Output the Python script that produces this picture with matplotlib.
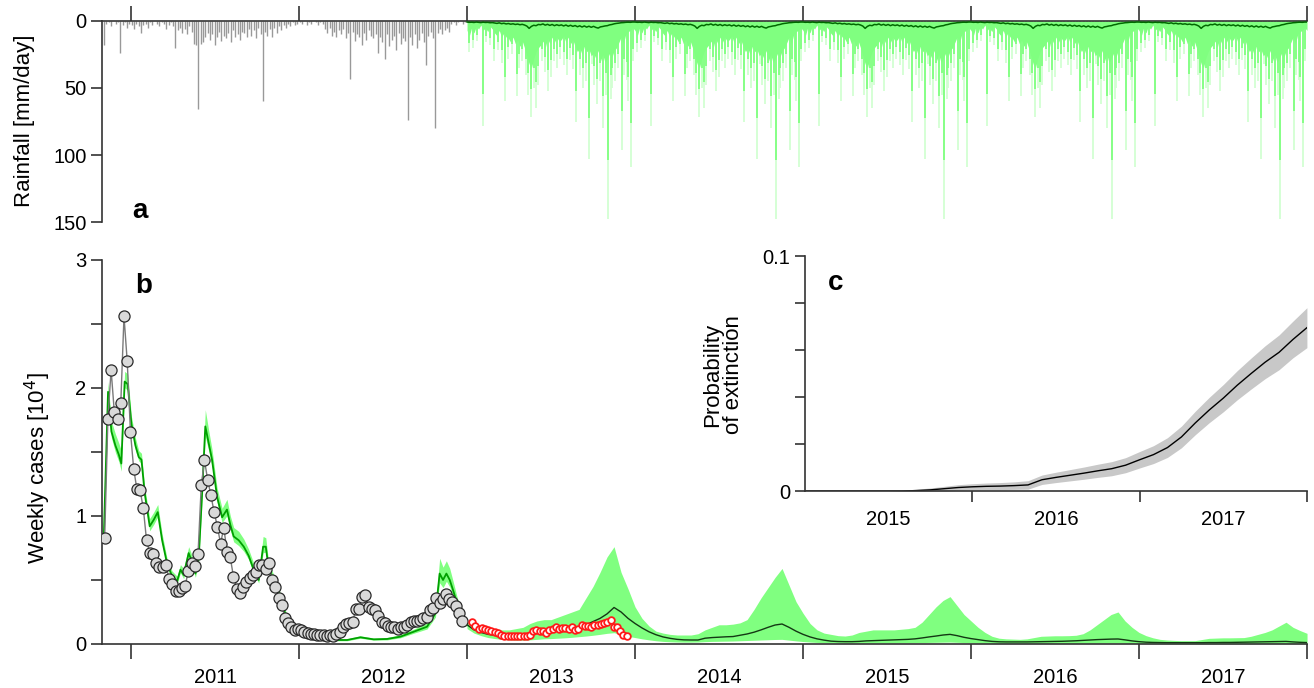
"""
cholera forecast figure: rainfall (a), weekly cases (b), extinction probability (c)
"""
import numpy as np
import matplotlib
matplotlib.use("Agg")
import matplotlib.pyplot as plt
from matplotlib.ticker import FixedLocator

plt.rcParams.update({
    "font.family": ["Liberation Sans", "DejaVu Sans"],
    "font.size": 14.5,
    "axes.linewidth": 1.2,
    "axes.edgecolor": "#333333",
    "xtick.major.width": 1.2,
    "ytick.major.width": 1.2,
    "xtick.minor.width": 1.2,
    "ytick.minor.width": 1.2,
    "xtick.major.size": 8.5,
    "ytick.major.size": 8.0,
    "ytick.minor.size": 8.0,
    "xtick.color": "#333333",
    "ytick.color": "#333333",
    "xtick.labelcolor": "black",
    "ytick.labelcolor": "black",
})

# =========================
# data
# =========================
# observed daily rainfall (sampled every 5 days), mm/day
rain_start = 2010.84
rain_obs = [18, 2, 1, 4, 0, 2, 1, 24, 3, 1, 5, 2,
            3, 6, 2, 4, 9, 3, 2, 5, 1, 3, 0, 2, 4, 1, 2, 6, 3, 1, 4,
            20, 7, 5, 9, 6, 10, 4, 8, 17,
            18, 66, 17, 16, 12, 9, 14,
            10, 18, 12, 8, 15, 11, 13, 9, 16, 7, 12, 10, 14, 8,
            9, 12, 6, 11, 7, 13, 5, 10,
            60,
            8, 11, 6, 12, 5, 9, 4, 7,
            3, 5, 2, 4, 1, 3, 2,
            1, 2, 0, 3, 1, 2, 0, 1, 3, 1, 2,
            6, 9, 5, 11, 8, 12, 7, 10, 6, 13, 9,
            43,
            8, 15, 10, 12, 18, 9, 14, 7, 11, 13, 10,
            24,
            12, 16, 28, 10, 19, 14, 11, 22, 9, 17, 13, 15,
            74,
            12, 18, 10, 20, 14, 9, 16,
            33,
            11, 8, 13,
            80,
            9, 6, 10, 7, 5, 8,
            2, 1, 3, 1, 0, 2, 1, 1]

# simulated rainfall, one climatological year (5-day steps), repeated 2013-2017
sim_years = [2013, 2014, 2015, 2016, 2017]
rain_body = [7, 11, 5, 9,
             4, 6, 3, 7, 5, 8, 4, 6,
             9, 11, 7, 12, 9, 12,
             13, 16, 12, 17, 14, 19, 15, 20,
             26, 32, 35, 28, 23, 20,
             18, 15, 20, 13, 17, 12, 16, 12, 15,
             14, 11, 16, 12, 17, 14,
             19, 23, 20, 25, 19, 23, 21, 26,
             24, 28, 22, 30, 25, 31, 28, 24, 27, 22, 20,
             16, 12, 17, 10, 8, 7, 5]
rain_median = [0.8, 1.0, 0.9, 1.1, 0.8, 1.0, 1.2, 0.9, 1.1, 1.0, 1.3, 1.2,
               1.5, 1.8, 1.4, 2.0, 1.7, 2.2, 1.9, 2.4, 2.1, 2.6, 2.3, 2.8, 2.5, 3.0,
               3.8, 5.5, 4.0, 3.2, 3.5, 2.6,
               2.8, 2.2, 3.1, 2.5, 3.3, 2.6, 3.5, 2.8, 3.4, 2.9, 3.7, 3.0, 3.9, 3.2, 4.0,
               3.4, 4.3, 3.6, 4.5, 3.7, 4.6, 3.9, 4.7, 4.0, 4.8, 5.3, 4.4, 4.1, 3.7,
               3.5, 2.9, 2.6, 2.1, 1.8,
               1.6, 1.3, 1.2, 1.0, 0.9, 1.0, 0.8]
spike_day = [3.6, 12, 22, 34, 42, 50.6, 58, 68, 77, 83, 90, 97.6, 108, 114,
             119, 128, 133, 139.5, 144.5, 150, 155, 162.6, 170, 177, 182, 188,
             195, 202, 210, 218, 224, 230, 237, 246, 252, 258, 266, 271, 276,
             282, 289, 296, 302, 307, 312, 316, 321.6, 329, 336, 342, 347, 351,
             356, 360]
spike_mm = [23, 20, 15, 78, 16, 18, 30, 22, 31, 60, 28, 25, 56, 35,
            30, 40, 55, 72, 50, 65, 48, 30, 38, 52, 42, 30,
            35, 28, 33, 40, 29, 36, 75, 40, 50, 45, 103, 32, 48,
            62, 45, 80, 55, 148, 58, 50, 45, 35, 96, 40, 44, 60,
            109, 30]

# weekly observed cases [10^4], fitting period
obs_start = 2010.843
obs_cases = [0.826, 1.76, 2.14, 1.81, 1.755, 1.88, 2.56, 2.21, 1.66, 1.37,
             1.21, 1.20, 1.06, 0.81, 0.71, 0.70, 0.635, 0.60, 0.60, 0.615,
             0.51, 0.466, 0.41, 0.41, 0.435, 0.456, 0.57, 0.63, 0.61, 0.706,
             1.24, 1.435, 1.28, 1.16, 1.03, 0.917, 0.784, 0.909, 0.719, 0.677,
             0.526, 0.432, 0.396, 0.443, 0.487, 0.516, 0.539, 0.565, 0.617, 0.617,
             0.583, 0.630, 0.500, 0.448, 0.362, 0.302, 0.203, 0.161, 0.135, 0.109,
             0.117, 0.109, 0.096, 0.083, 0.078, 0.078, 0.070, 0.068, 0.070, 0.065,
             0.070, 0.065, 0.078, 0.096, 0.130, 0.156, 0.160, 0.172, 0.271, 0.276,
             0.365, 0.383, 0.286, 0.273, 0.266, 0.219, 0.174, 0.167, 0.141, 0.135,
             0.130, 0.120, 0.135, 0.135, 0.148, 0.174, 0.180, 0.182, 0.188, 0.201,
             0.214, 0.266, 0.284, 0.359, 0.323, 0.352, 0.388, 0.354, 0.328, 0.299,
             0.245, 0.182]

# weekly observed cases after the fit (validation)
val_start = 2013.03
val_cases = [0.174, 0.141, 0.115, 0.122, 0.115, 0.109, 0.102, 0.091, 0.083, 0.070,
             0.065, 0.0625, 0.0625, 0.060, 0.060, 0.0625, 0.0625, 0.065, 0.070, 0.102,
             0.109, 0.104, 0.102, 0.089, 0.109, 0.120, 0.130, 0.115, 0.125, 0.128,
             0.115, 0.130, 0.109, 0.120, 0.146, 0.141, 0.141, 0.135, 0.146, 0.151,
             0.159, 0.161, 0.169, 0.1875, 0.135, 0.130, 0.104, 0.070, 0.0625]

# model fit (median and half-width of band)
fit_t = [2010.837, 2010.863, 2010.883, 2010.907, 2010.927, 2010.942, 2010.962, 2010.980,
         2011.002, 2011.026, 2011.046, 2011.062, 2011.081, 2011.111, 2011.135, 2011.159,
         2011.185, 2011.214, 2011.244, 2011.274, 2011.294, 2011.313, 2011.343, 2011.363,
         2011.383, 2011.403, 2011.423, 2011.442, 2011.462, 2011.482, 2011.512, 2011.542,
         2011.571, 2011.591, 2011.611, 2011.641, 2011.671, 2011.700, 2011.730, 2011.760,
         2011.786, 2011.802, 2011.819, 2011.849, 2011.879, 2011.909, 2011.938, 2011.968,
         2012.008, 2012.087, 2012.206, 2012.286, 2012.365, 2012.444, 2012.524, 2012.603,
         2012.683, 2012.762, 2012.812, 2012.837, 2012.857, 2012.877, 2012.897, 2012.917,
         2012.940, 2012.970, 2013.000]
fit_cases = [0.80, 1.97, 1.66, 1.55, 1.48, 1.41, 2.05, 2.03,
             1.72, 1.55, 1.46, 1.44, 1.18, 0.92, 0.97, 1.03, 0.81, 0.63,
             0.53, 0.49, 0.58, 0.54, 0.71, 0.64, 0.55, 0.68, 1.18, 1.70,
             1.57, 1.44, 1.15, 0.99, 1.05, 0.93, 0.84, 0.81, 0.76, 0.69,
             0.58, 0.50, 0.76, 0.76, 0.59, 0.50, 0.40, 0.27, 0.16, 0.11,
             0.07, 0.044, 0.031, 0.031, 0.052, 0.036, 0.039, 0.057, 0.096, 0.135,
             0.24, 0.55, 0.50, 0.55, 0.50, 0.42, 0.32, 0.21,
             0.15]
fit_spread = [0.03, 0.08, 0.08, 0.09, 0.09, 0.10, 0.08, 0.08,
              0.06, 0.06, 0.05, 0.05, 0.05, 0.06, 0.06, 0.06, 0.05, 0.04,
              0.04, 0.04, 0.04, 0.05, 0.05, 0.05, 0.05, 0.06, 0.08, 0.13,
              0.10, 0.08, 0.07, 0.07, 0.08, 0.07, 0.07, 0.07, 0.06, 0.05,
              0.05, 0.04, 0.08, 0.07, 0.05, 0.04, 0.04, 0.03, 0.03, 0.02,
              0.015, 0.01, 0.01, 0.01, 0.012, 0.01, 0.012, 0.015, 0.02, 0.03,
              0.05, 0.12, 0.10, 0.10, 0.09, 0.07, 0.05, 0.04,
              0.03]

# forecast 2013-2018 (half-month steps): lower, median, upper
fc_lo = [0.12, 0.085, 0.065, 0.05, 0.042, 0.036, 0.032, 0.03, 0.03, 0.032, 0.036, 0.04,
         0.042, 0.045, 0.048, 0.052, 0.057, 0.062, 0.068, 0.075, 0.083, 0.088, 0.075, 0.06,
         0.05, 0.04, 0.032, 0.025, 0.02, 0.017, 0.015, 0.014, 0.014, 0.015, 0.018, 0.02,
         0.021, 0.022, 0.023, 0.025, 0.027, 0.029, 0.031, 0.033, 0.035, 0.036, 0.03, 0.024,
         0.019, 0.015, 0.012, 0.01, 0.008, 0.007, 0.006, 0.006, 0.006, 0.007, 0.007, 0.008,
         0.008, 0.008, 0.009, 0.009, 0.01, 0.011, 0.012, 0.013, 0.014, 0.015, 0.013, 0.011,
         0.009, 0.007, 0.006, 0.005, 0.004, 0.004, 0.004, 0.004, 0.004, 0.004, 0.004, 0.004,
         0.005, 0.005, 0.005, 0.005, 0.006, 0.006, 0.006, 0.007, 0.007, 0.007, 0.006, 0.005,
         0.004, 0.003, 0.003, 0.003, 0.002, 0.002, 0.002, 0.002, 0.002, 0.002, 0.002, 0.002,
         0.002, 0.002, 0.002, 0.002, 0.002, 0.003, 0.003, 0.003, 0.003, 0.003, 0.003, 0.003,
         0.003]
fc_med = [0.15, 0.11, 0.09, 0.075, 0.068, 0.062, 0.06, 0.06, 0.065, 0.075, 0.09, 0.095,
          0.10, 0.10, 0.105, 0.12, 0.135, 0.15, 0.175, 0.20, 0.235, 0.285, 0.25, 0.20,
          0.16, 0.125, 0.095, 0.072, 0.055, 0.044, 0.036, 0.032, 0.031, 0.031, 0.045, 0.05,
          0.053, 0.056, 0.058, 0.068, 0.078, 0.092, 0.11, 0.13, 0.148, 0.156, 0.13, 0.10,
          0.075, 0.055, 0.04, 0.03, 0.022, 0.019, 0.018, 0.018, 0.02, 0.024, 0.026, 0.028,
          0.03, 0.032, 0.034, 0.036, 0.04, 0.047, 0.055, 0.062, 0.07, 0.075, 0.065, 0.052,
          0.042, 0.034, 0.026, 0.02, 0.017, 0.016, 0.016, 0.016, 0.016, 0.017, 0.018, 0.019,
          0.02, 0.021, 0.023, 0.025, 0.028, 0.031, 0.034, 0.036, 0.038, 0.039, 0.032, 0.024,
          0.018, 0.014, 0.012, 0.011, 0.01, 0.01, 0.01, 0.01, 0.01, 0.01, 0.011, 0.011,
          0.012, 0.012, 0.013, 0.014, 0.015, 0.016, 0.017, 0.018, 0.019, 0.02, 0.016, 0.013,
          0.011]
fc_hi = [0.17, 0.14, 0.125, 0.12, 0.12, 0.11, 0.11, 0.12, 0.13, 0.16, 0.18, 0.19,
         0.19, 0.21, 0.23, 0.25, 0.27, 0.36, 0.45, 0.56, 0.68, 0.76, 0.56, 0.43,
         0.29, 0.20, 0.14, 0.10, 0.085, 0.075, 0.07, 0.07, 0.07, 0.08, 0.11, 0.13,
         0.15, 0.15, 0.155, 0.165, 0.19, 0.27, 0.36, 0.44, 0.52, 0.59, 0.46, 0.33,
         0.24, 0.16, 0.11, 0.085, 0.075, 0.065, 0.062, 0.07, 0.09, 0.10, 0.11, 0.11,
         0.11, 0.11, 0.115, 0.12, 0.13, 0.17, 0.23, 0.29, 0.34, 0.37, 0.30, 0.23,
         0.18, 0.13, 0.09, 0.06, 0.045, 0.04, 0.038, 0.036, 0.04, 0.05, 0.06, 0.062,
         0.064, 0.064, 0.065, 0.068, 0.08, 0.11, 0.15, 0.19, 0.23, 0.25, 0.18, 0.13,
         0.09, 0.065, 0.048, 0.036, 0.031, 0.028, 0.026, 0.026, 0.026, 0.035, 0.044, 0.046,
         0.048, 0.048, 0.049, 0.05, 0.06, 0.075, 0.09, 0.11, 0.14, 0.17, 0.13, 0.105,
         0.083]

# probability of extinction (monthly, 2015-2018)
ext_prob = [0, 0, 0, 0, 0, 0, 0, 0, 0.0002, 0.0005, 0.001, 0.0015,
            0.0018, 0.002, 0.0021, 0.0023, 0.0026, 0.0048, 0.0058, 0.0067, 0.0076, 0.0086, 0.0095, 0.011,
            0.0133, 0.0155, 0.0185, 0.023, 0.029, 0.0345, 0.0395, 0.045, 0.050, 0.0548, 0.059, 0.0645,
            0.0695]
ext_spread = [0, 0, 0, 0, 0, 0, 0, 0.0003, 0.0006, 0.0008, 0.001, 0.0012,
              0.0013, 0.0014, 0.0015, 0.0016, 0.0018, 0.002, 0.0022, 0.0024, 0.0026, 0.0028, 0.003, 0.0032,
              0.0035, 0.0038, 0.0042, 0.0046, 0.005, 0.0054, 0.0058, 0.0062, 0.0066, 0.007, 0.0074, 0.0078,
              0.0085]

years = [2011, 2012, 2013, 2014, 2015, 2016, 2017, 2018]
year_labels = ["2011", "2012", "2013", "2014", "2015", "2016", "2017"]

GREEN_BAND = "#80ff80"
GREEN_TIP = "#d2ffd2"
GREEN_FIT = "#00a000"
GREEN_DARK = "#006a00"

# =========================
# figure
# =========================
fig = plt.figure(figsize=(13.14, 6.88), dpi=100)
ax_r = fig.add_axes([0.078, 0.6773, 0.9167, 0.2922])
ax_c = fig.add_axes([0.078, 0.0640, 0.9167, 0.5581])
ax_p = fig.add_axes([0.6126, 0.2863, 0.3820, 0.3416])

# ---- a: rainfall
t_rain = rain_start + np.arange(len(rain_obs)) * 5 / 365.25
ax_r.vlines(t_rain, 0, rain_obs, color="#999999", lw=1.0)

day = np.arange(len(rain_body)) * 5.0
t_sim = np.concatenate([y + day / 365.25 for y in sim_years] + [[2018.0]])
body = np.concatenate([rain_body] * len(sim_years) + [[rain_body[0]]])
med = np.concatenate([rain_median] * len(sim_years) + [[rain_median[0]]])
sp_t = np.concatenate([y + np.array(spike_day) / 365.25 for y in sim_years])
sp_v = np.array(spike_mm * len(sim_years))

ax_r.vlines(sp_t, 0, sp_v, color=GREEN_TIP, lw=1.3, zorder=1)
ax_r.vlines(sp_t, 0, sp_v * 0.7, color=GREEN_BAND, lw=1.3, zorder=2)
ax_r.fill_between(t_sim, 0, body, color=GREEN_BAND, lw=0, zorder=2)
ax_r.plot(t_sim, med, color=GREEN_DARK, lw=1.1, zorder=3)

ax_r.set_xlim(2010.83, 2018.0)
ax_r.set_ylim(150, 0)
ax_r.set_yticks([0, 50, 100, 150])
ax_r.xaxis.tick_top()
ax_r.set_xticks(years)
ax_r.tick_params(axis="x", labeltop=False, labelbottom=False, length=11)
ax_r.tick_params(axis="y", length=8)
for s in ["bottom", "right"]:
    ax_r.spines[s].set_visible(False)
ax_r.text(0.025, 0.02, "a", transform=ax_r.transAxes, fontsize=20,
          fontweight="bold", ha="left", va="baseline")
fig.text(0.019, 0.824, "Rainfall [mm/day]", rotation=90, ha="center",
         va="center", fontsize=16)

# ---- b: weekly cases
t_fc = 2013 + np.arange(len(fc_med)) / 24
ax_c.fill_between(t_fc, fc_lo, fc_hi, color=GREEN_BAND, lw=0, zorder=1)
ax_c.plot(t_fc, fc_med, color="#143814", lw=1.0, zorder=2)

fit_v = np.array(fit_cases)
fit_s = np.array(fit_spread)
ax_c.fill_between(fit_t, fit_v - fit_s * 0.6, fit_v + fit_s, color=GREEN_BAND,
                  lw=0, zorder=1)
ax_c.plot(fit_t, fit_v, color=GREEN_FIT, lw=1.3, zorder=2)

t_obs = obs_start + np.arange(len(obs_cases)) * 7 / 365.25
ax_c.plot(t_obs, obs_cases, color="#7a7a7a", lw=1.0, zorder=3)
ax_c.plot(t_obs, obs_cases, ls="none", marker="o", ms=8.0,
          mfc="#d9d9d9", mec="#2a2a2a", mew=0.9, zorder=4)

t_val = val_start + np.arange(len(val_cases)) * 7 / 365.25
ax_c.plot(t_val, val_cases, ls="none", marker="o", ms=4.8,
          mfc="white", mec="#ff1a1a", mew=1.3, zorder=4)

ax_c.set_xlim(2010.83, 2018.0)
ax_c.set_ylim(0, 3)
ax_c.set_yticks([0, 1, 2, 3])
ax_c.yaxis.set_minor_locator(FixedLocator([0.5, 1.5, 2.5]))
ax_c.set_xticks(years)
ax_c.set_xticklabels([])
ax_c.set_xticks([y + 0.5 for y in years[:-1]], minor=True)
ax_c.set_xticklabels(year_labels, minor=True)
ax_c.tick_params(axis="x", which="major", length=11)
ax_c.tick_params(axis="x", which="minor", length=0, pad=17)
ax_c.tick_params(axis="y", which="both", length=8)
for s in ["top", "right"]:
    ax_c.spines[s].set_visible(False)
ax_c.text(0.027, 0.914, "b", transform=ax_c.transAxes, fontsize=20,
          fontweight="bold", ha="left", va="baseline")
fig.text(0.029, 0.320, "Weekly cases [10$^4$]", rotation=90, ha="center",
         va="center", fontsize=16)

# ---- c: probability of extinction
t_ext = 2015 + np.arange(len(ext_prob)) / 12
ext_v = np.array(ext_prob)
ext_s = np.array(ext_spread)
ax_p.fill_between(t_ext, np.clip(ext_v - ext_s, 0, None), ext_v + ext_s,
                  color="#c8c8c8", lw=0)
ax_p.plot(t_ext, ext_v, color="black", lw=1.0)
ax_p.set_xlim(2015.0, 2018.0)
ax_p.set_ylim(0, 0.1)
ax_p.set_yticks([0, 0.1])
ax_p.set_yticklabels(["0", "0.1"])
ax_p.yaxis.set_minor_locator(FixedLocator([0.02, 0.04, 0.06, 0.08]))
ax_p.set_xticks([2016, 2017, 2018])
ax_p.set_xticklabels([])
ax_p.set_xticks([2015.5, 2016.5, 2017.5], minor=True)
ax_p.set_xticklabels(["2015", "2016", "2017"], minor=True)
ax_p.tick_params(axis="x", which="major", length=8)
ax_p.tick_params(axis="x", which="minor", length=0, pad=14)
ax_p.tick_params(axis="y", which="both", length=7)
for s in ["top", "right"]:
    ax_p.spines[s].set_visible(False)
ax_p.text(0.046, 0.855, "c", transform=ax_p.transAxes, fontsize=20,
          fontweight="bold", ha="left", va="baseline")
fig.text(0.550, 0.455, "Probability\nof extinction", rotation=90, ha="center",
         va="center", fontsize=16, multialignment="center", linespacing=1.0)

fig.savefig("out.png", dpi=100)
